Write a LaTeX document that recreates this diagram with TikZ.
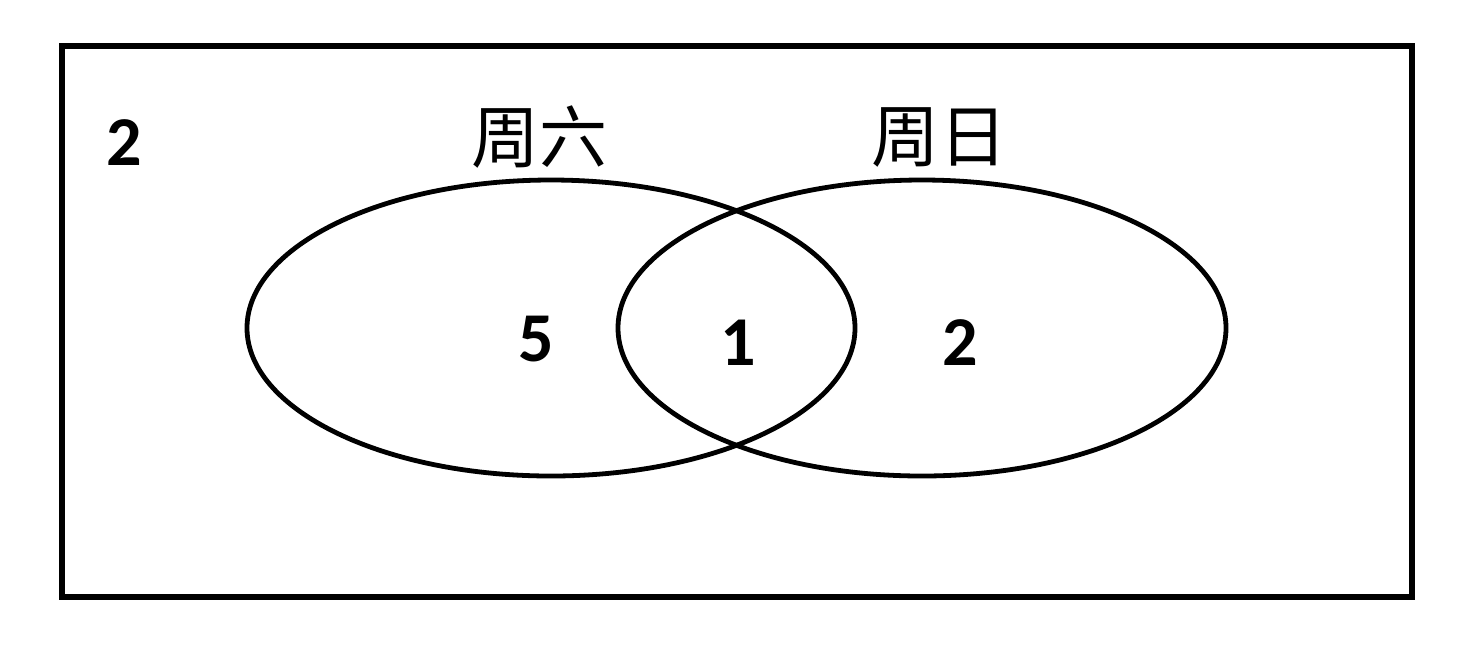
\documentclass[tikz,border=0pt]{standalone}
\usepackage{fontspec}
\setmainfont{Carlito}
\newfontfamily\cjk{Noto Sans CJK SC}
\tikzset{
  num/.style={font=\fontsize{35}{40}\selectfont\bfseries},
  setname/.style={font=\cjk\fontsize{34}{40}\selectfont}
}
\begin{document}
\begin{tikzpicture}[x=0.5pt,y=-0.5pt]
            \useasboundingbox (0,0) rectangle (1466,650);
            \draw[line width=3pt](62,46) rectangle (1412,597);
            \draw[line width=2.4pt](551,328) ellipse (304 and 148);
            \draw[line width=2.4pt](922,328) ellipse (304 and 148);
            \node[setname] (sat) at (539,137) {周六};
            \node[setname] (sun) at (939,137) {周日};
            \node[num] (out) at (124,143) {2};
            \node[num] (onlysat) at (536,339) {5};
            \node[num] (both) at (738,343) {1};
            \node[num] (onlysun) at (960,343) {2};
        \end{tikzpicture}
\end{document}
